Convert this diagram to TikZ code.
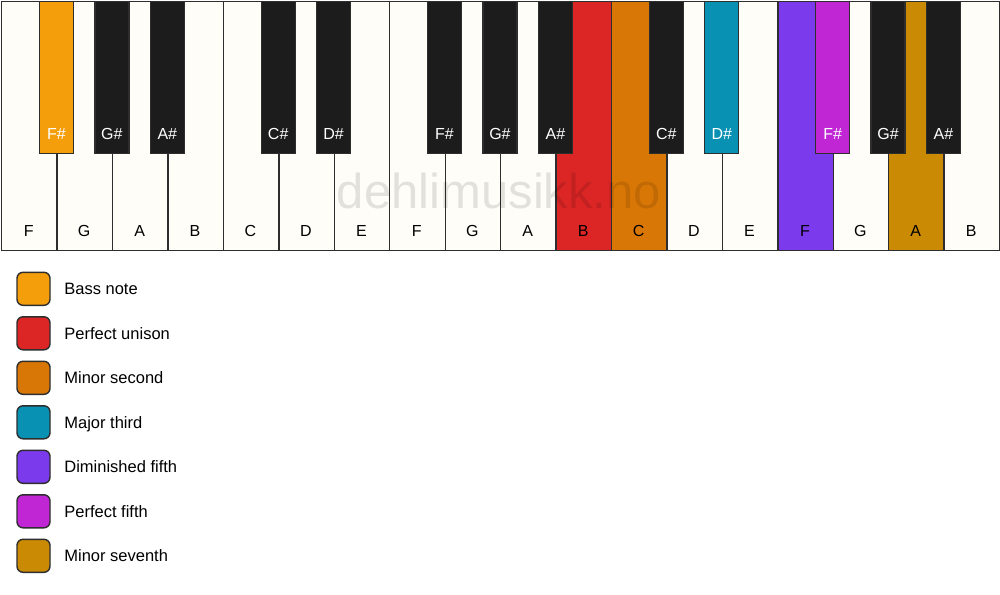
\documentclass[tikz,border=0pt]{standalone}
\usepackage{fontspec}
\setmainfont{Liberation Sans}
\usepackage{xcolor}
\definecolor{keyWhite}{HTML}{FFFDF8}
\definecolor{keyBlack}{HTML}{1C1C1C}
\definecolor{keyEdge}{HTML}{2E2E2E}
\definecolor{bassOrange}{HTML}{F59E0B}
\definecolor{unisonRed}{HTML}{DC2626}
\definecolor{secondAmber}{HTML}{D97706}
\definecolor{thirdCyan}{HTML}{0891B2}
\definecolor{dimViolet}{HTML}{7C3AED}
\definecolor{fifthFuchsia}{HTML}{C026D3}
\definecolor{seventhGold}{HTML}{CA8A04}
\usetikzlibrary{positioning}

\begin{document}
\begin{tikzpicture}[
  x=1pt, y=-1pt,
  whiteKey/.style={draw=keyEdge, line width=1.4pt, minimum width=55.44pt, minimum height=249pt, inner sep=0pt, anchor=north west},
  blackKey/.style={draw=keyEdge, line width=1.4pt, minimum width=34pt, minimum height=151.5pt, inner sep=0pt, anchor=north},
  whiteLabel/.style={font=\fontsize{16}{18}\selectfont, text=black, inner sep=0pt, anchor=base},
  blackLabel/.style={font=\fontsize{16}{18}\selectfont, text=white, inner sep=0pt, anchor=base},
  legendBox/.style={draw=keyEdge, line width=1.4pt, rounded corners=6pt, minimum size=33pt, inner sep=0pt},
  legendText/.style={font=\fontsize{16.5}{18}\selectfont, inner sep=0pt, text height=12pt, text depth=0pt},
  watermark/.style={font=\fontsize{49}{50}\selectfont, text=black, text opacity=0.11, inner sep=0pt, anchor=base},
]
\useasboundingbox (0,0) rectangle (1000,594);
\fill[white] (0,0) rectangle (1000,594);

\def\W{55.44} % white key width
\def\X{1}     % left edge of the keyboard

% white keys, F to B (18 keys)
\foreach \i/\name/\col in {0/F/keyWhite,1/G/keyWhite,2/A/keyWhite,3/B/keyWhite,4/C/keyWhite,5/D/keyWhite,
  6/E/keyWhite,7/F/keyWhite,8/G/keyWhite,9/A/keyWhite,10/B/unisonRed,11/C/secondAmber,
  12/D/keyWhite,13/E/keyWhite,14/F/dimViolet,15/G/keyWhite,16/A/seventhGold,17/B/keyWhite} {
  \node[whiteKey, fill=\col] (w\i) at (\X+\i*\W,1) {};
  \node[whiteLabel] (lw\i) at (\X+\i*\W+\W/2,236) {\name};
}

% watermark
\node[watermark] (wm) at (499,208) {dehlimusikk.no};

% black keys sit on the boundary between white keys
\foreach \k/\name/\col in {1/F\#/bassOrange,2/G\#/keyBlack,3/A\#/keyBlack,5/C\#/keyBlack,6/D\#/keyBlack,
  8/F\#/keyBlack,9/G\#/keyBlack,10/A\#/keyBlack,12/C\#/keyBlack,13/D\#/thirdCyan,
  15/F\#/fifthFuchsia,16/G\#/keyBlack,17/A\#/keyBlack} {
  \node[blackKey, fill=\col] (b\k) at (\X+\k*\W,1) {};
  \node[blackLabel] (lb\k) at (\X+\k*\W,139) {\name};
}

% legend
\foreach \j/\col/\txt in {0/bassOrange/Bass note,1/unisonRed/Perfect unison,2/secondAmber/Minor second,
  3/thirdCyan/Major third,4/dimViolet/Diminished fifth,5/fifthFuchsia/Perfect fifth,6/seventhGold/Minor seventh} {
  \node[legendBox, fill=\col] (s\j) at (33.5,288.8+44.5*\j) {};
  \node[legendText, right=13.5pt of s\j] (t\j) {\txt};
}

\end{tikzpicture}
\end{document}
